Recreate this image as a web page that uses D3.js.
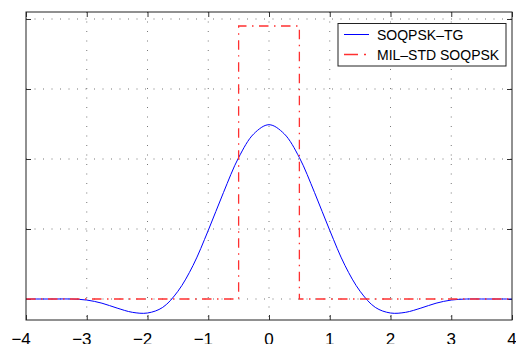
<!DOCTYPE html>
<html>
<head>
  <meta charset="UTF-8">
  <style>
    body { margin: 0; background: white; }
    svg { display: block; }
    text { font-family: "Liberation Sans", Arial, sans-serif; fill: #000; }
  </style>
</head>
<body>
<svg></svg>
<script src="https://d3js.org/d3.v7.min.js"></script>
<script>
let width = 516, height = 344;

// SOQPSK-TG frequency pulse
const tgT = [-4, -3.75, -3.5, -3.25, -3, -2.75, -2.5, -2.25, -2, -1.75, -1.5, -1.25, -1, -0.75, -0.5, -0.25,
             0, 0.25, 0.5, 0.75, 1, 1.25, 1.5, 1.75, 2, 2.25, 2.5, 2.75, 3, 3.25, 3.5, 3.75, 4];
const tgG = [0, 0, 0, 0, -0.0015, -0.006, -0.013, -0.019, -0.020, -0.012, 0.011, 0.048, 0.098, 0.152, 0.202, 0.236,
             0.249, 0.236, 0.202, 0.152, 0.098, 0.048, 0.011, -0.012, -0.020, -0.019, -0.013, -0.006, -0.0015, 0, 0, 0, 0];

// MIL-STD SOQPSK rectangular pulse
const milT = [-4, -0.5, -0.5, 0.5, 0.5, 4];
const milG = [0, 0, 0.39, 0.39, 0, 0];

const xTicks = [-4, -3, -2, -1, 0, 1, 2, 3, 4];
const yTicks = [0, 0.1, 0.2, 0.3, 0.4];
const seriesNames = ["SOQPSK\u2013TG", "MIL\u2013STD SOQPSK"];

let svg = d3.select("svg")
    .attr("width", width)
    .attr("height", height);

const pLeft = 26, pRight = 512, pTop = 12, pBottom = 320;

const x = d3.scaleLinear().domain([-4, 4]).range([pLeft, pRight]);
const y = d3.scaleLinear().domain([-0.03, 0.41]).range([pBottom, pTop]);

// grid
svg.append("g")
    .selectAll("line")
    .data(xTicks.slice(1, -1))
    .join("line")
    .attr("x1", d => x(d)).attr("x2", d => x(d))
    .attr("y1", pTop).attr("y2", pBottom)
    .attr("stroke", "#777")
    .attr("stroke-width", 1)
    .attr("stroke-dasharray", "1,8.5");

svg.append("g")
    .selectAll("line")
    .data(yTicks)
    .join("line")
    .attr("x1", pLeft).attr("x2", pRight)
    .attr("y1", d => y(d)).attr("y2", d => y(d))
    .attr("stroke", "#777")
    .attr("stroke-width", 1)
    .attr("stroke-dasharray", "1,7.5");

// axes box + ticks
const tickLen = 5;
svg.append("g")
    .attr("transform", `translate(0,${pBottom})`)
    .call(d3.axisBottom(x).tickValues(xTicks).tickSize(-tickLen).tickFormat(""))
    .call(g => g.select(".domain").remove());
svg.append("g")
    .attr("transform", `translate(0,${pTop})`)
    .call(d3.axisTop(x).tickValues(xTicks).tickSize(-tickLen).tickFormat(""))
    .call(g => g.select(".domain").remove());
svg.append("g")
    .attr("transform", `translate(${pLeft},0)`)
    .call(d3.axisLeft(y).tickValues(yTicks).tickSize(-tickLen).tickFormat(""))
    .call(g => g.select(".domain").remove());
svg.append("g")
    .attr("transform", `translate(${pRight},0)`)
    .call(d3.axisRight(y).tickValues(yTicks).tickSize(-tickLen).tickFormat(""))
    .call(g => g.select(".domain").remove());
svg.selectAll(".tick line").attr("stroke", "#333");

// x tick labels (bottom half is cut by the frame, as in the source)
svg.append("g")
    .selectAll("text")
    .data(xTicks)
    .join("text")
    .attr("x", d => x(d) + 4.8)
    .attr("y", 344.5)
    .attr("text-anchor", "end")
    .style("font-size", "17px")
    .text(d => d < 0 ? "\u2212" + Math.abs(d) : d);

// blue curve
svg.append("path")
    .datum(tgT.map((t, i) => [t, tgG[i]]))
    .attr("d", d3.line().x(d => x(d[0])).y(d => y(d[1])).curve(d3.curveCatmullRom))
    .attr("fill", "none")
    .attr("stroke", "#0000ff")
    .attr("stroke-width", 1);

// red rectangular pulse
svg.append("path")
    .datum(milT.map((t, i) => [t, milG[i]]))
    .attr("d", d3.line().x(d => x(d[0])).y(d => y(d[1])))
    .attr("fill", "none")
    .attr("stroke", "#ff3030")
    .attr("stroke-width", 1.3)
    .attr("stroke-dasharray", "9.5,5.5,1.5,5.5");

svg.append("rect")
    .attr("x", pLeft).attr("y", pTop)
    .attr("width", pRight - pLeft).attr("height", pBottom - pTop)
    .attr("fill", "none")
    .attr("stroke", "#222")
    .attr("stroke-width", 1);

// legend
const legend = svg.append("g").attr("transform", "translate(338,23.5)");
legend.append("rect")
    .attr("width", 168).attr("height", 42.5)
    .attr("fill", "white")
    .attr("stroke", "#222")
    .attr("stroke-width", 1);
legend.append("line")
    .attr("x1", 6).attr("x2", 31).attr("y1", 11).attr("y2", 11)
    .attr("stroke", "#0000ff").attr("stroke-width", 1);
legend.append("line")
    .attr("x1", 6).attr("x2", 31).attr("y1", 31).attr("y2", 31)
    .attr("stroke", "#ff3030").attr("stroke-width", 1.3)
    .attr("stroke-dasharray", "14,6,2,10");
legend.selectAll("text.lab")
    .data(seriesNames)
    .join("text")
    .attr("class", "lab")
    .attr("x", 39)
    .attr("y", (d, i) => 16.5 + i * 20)
    .style("font-size", "14px")
    .text(d => d);
</script>
</body>
</html>
